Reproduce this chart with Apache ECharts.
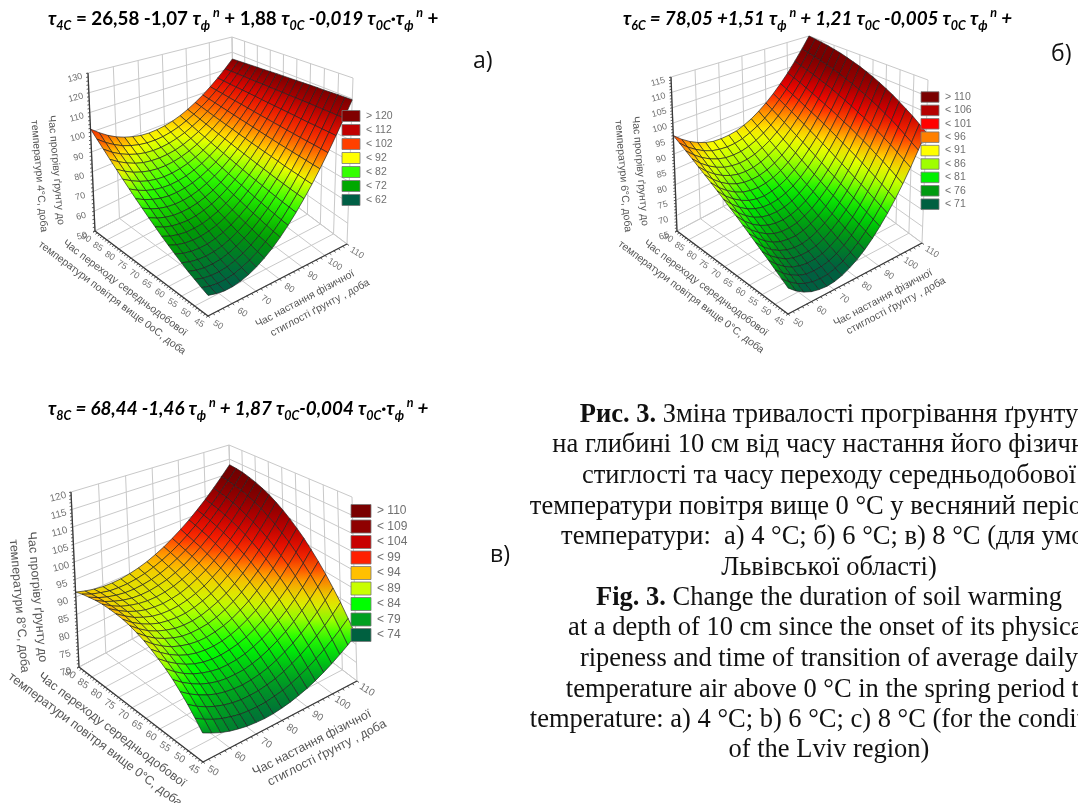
<!DOCTYPE html><html><head><meta charset="utf-8"><script src="https://cdn.jsdelivr.net/npm/echarts@6/dist/echarts.min.js"></script><style>html,body{margin:0;background:#fff}#c{width:1078px;height:803px}#c canvas{filter:blur(.45px)}</style></head><body><div id="c"></div><script>
const uTicks=[50,60,70,80,90,100,110];
const vTicks=[45,50,55,60,65,70,75,80,85,90];
const zTicksA=[50,60,70,80,90,100,110,120,130];
const zTicksB=[65,70,75,80,85,90,95,100,105,110,115];
const zTicksC=[70,75,80,85,90,95,100,105,110,115,120];
const legendA=['> 120','< 112','< 102','< 92','< 82','< 72','< 62'];
const legendB=['> 110','< 106','< 101','< 96','< 91','< 86','< 81','< 76','< 71'];
const legendC=['> 110','< 109','< 104','< 99','< 94','< 89','< 84','< 79','< 74'];
const legendColA=['#800000','#c00000','#ff4000','#ffff00','#33ff00','#00a800','#005f45'];
const legendColB=['#7a0000','#b50000','#ff0000','#ff8000','#ffff00','#9fff00','#00f000','#009a10','#006040'];
const legendColC=['#7a0000','#8f0000','#c80000','#ff2000','#ffc000','#c8ff00','#00ff00','#00a020','#006040'];
const zA=[
[58,57.1,56.6,56.7,57.3,58.4,60,62.2,64.8,68,71.7,75.9,80.6,85.8,91.5,97.7,104.5,111.7,119.5],
[59.2,58.2,57.7,57.8,58.3,59.4,60.9,63,65.6,68.6,72.2,76.4,81,86.1,91.7,97.9,104.6,111.7,119.4],
[60.6,59.5,59,58.9,59.4,60.4,61.9,63.8,66.3,69.3,72.9,76.9,81.4,86.5,92,98.1,104.6,111.7,119.3],
[62,60.9,60.3,60.2,60.6,61.5,62.9,64.8,67.2,70.1,73.5,77.5,81.9,86.8,92.3,98.2,104.7,111.6,119.1],
[63.7,62.5,61.8,61.6,61.9,62.7,64,65.8,68.1,70.9,74.3,78.1,82.4,87.2,92.6,98.4,104.7,111.6,118.9],
[65.5,64.2,63.4,63.1,63.3,64,65.2,66.9,69.1,71.8,75,78.8,83,87.7,92.9,98.6,104.8,111.6,118.8],
[67.4,66,65.1,64.7,64.8,65.4,66.5,68.1,70.2,72.8,75.9,79.5,83.6,88.2,93.2,98.8,104.9,111.5,118.6],
[69.4,67.9,66.9,66.4,66.4,66.9,67.9,69.3,71.3,73.8,76.8,80.2,84.2,88.7,93.6,99.1,105,111.5,118.4],
[71.7,70,68.9,68.3,68.1,68.5,69.4,70.7,72.5,74.9,77.7,81,84.9,89.2,94,99.3,105.1,111.4,118.2],
[74,72.2,71,70.2,70,70.2,70.9,72.1,73.8,76,78.7,81.9,85.6,89.7,94.4,99.6,105.2,111.4,118],
[76.5,74.6,73.2,72.3,71.9,72,72.5,73.6,75.2,77.2,79.7,82.8,86.3,90.3,94.8,99.8,105.3,111.3,117.8],
[79.1,77.1,75.6,74.5,73.9,73.9,74.3,75.2,76.6,78.5,80.8,83.7,87.1,90.9,95.3,100.1,105.4,111.2,117.6],
[81.9,79.7,78,76.8,76.1,75.8,76.1,76.8,78.1,79.8,82,84.7,87.9,91.6,95.7,100.4,105.6,111.2,117.3],
[84.8,82.5,80.6,79.2,78.3,77.9,78,78.6,79.6,81.2,83.2,85.7,88.7,92.2,96.2,100.7,105.7,111.1,117],
[87.9,85.4,83.3,81.8,80.7,80.1,80,80.4,81.3,82.6,84.5,86.8,89.6,92.9,96.7,101,105.8,111,116.8],
[91.1,88.4,86.2,84.4,83.1,82.4,82.1,82.3,82.9,84.1,85.8,87.9,90.5,93.6,97.2,101.3,105.9,111,116.5],
[94.5,91.5,89.1,87.2,85.7,84.7,84.2,84.2,84.7,85.7,87.1,89.1,91.5,94.4,97.8,101.7,106,110.9,116.2],
[98,94.8,92.2,90,88.4,87.2,86.5,86.3,86.5,87.3,88.5,90.3,92.5,95.2,98.3,102,106.2,110.8,115.9],
[101.6,98.3,95.4,93,91.2,89.8,88.8,88.4,88.5,89,90,91.5,93.5,96,98.9,102.4,106.3,110.7,115.6]];
const zB=[
[71.5,69.8,68.5,67.6,67.1,66.9,67.1,67.7,68.7,70,71.7,73.8,76.3,79.1,82.3,85.9,89.9,94.3,99],
[72.7,70.9,69.5,68.5,67.9,67.7,67.8,68.4,69.3,70.7,72.4,74.6,77.1,80,83.3,87,91.1,95.6,100.5],
[73.9,72,70.5,69.4,68.7,68.5,68.6,69.1,70.1,71.4,73.2,75.4,77.9,80.9,84.3,88.1,92.3,96.9,102],
[75.2,73.2,71.6,70.4,69.7,69.3,69.4,69.9,70.9,72.2,74,76.2,78.8,81.9,85.3,89.2,93.5,98.2,103.3],
[76.4,74.3,72.7,71.4,70.6,70.3,70.3,70.8,71.7,73.1,74.9,77.1,79.7,82.8,86.3,90.2,94.6,99.4,104.6],
[77.7,75.5,73.8,72.5,71.6,71.2,71.2,71.7,72.6,74,75.7,78,80.6,83.7,87.3,91.3,95.7,100.5,105.9],
[79,76.8,75,73.6,72.7,72.3,72.2,72.7,73.6,74.9,76.7,78.9,81.6,84.7,88.3,92.3,96.7,101.6,107],
[80.3,78,76.2,74.8,73.8,73.3,73.3,73.7,74.6,75.9,77.7,79.9,82.5,85.7,89.2,93.3,97.8,102.7,108.1],
[81.7,79.3,77.4,76,75,74.5,74.4,74.8,75.6,76.9,78.7,80.9,83.5,86.6,90.2,94.3,98.7,103.7,109.1],
[83,80.6,78.7,77.2,76.2,75.7,75.6,75.9,76.7,78,79.7,81.9,84.6,87.7,91.2,95.2,99.7,104.6,110],
[84.4,82,80,78.5,77.5,76.9,76.8,77.1,77.9,79.1,80.8,83,85.6,88.7,92.2,96.2,100.6,105.5,110.9],
[85.8,83.3,81.4,79.9,78.8,78.2,78,78.4,79.1,80.3,82,84.1,86.7,89.7,93.2,97.1,101.5,106.3,111.6],
[87.2,84.7,82.8,81.3,80.2,79.6,79.4,79.7,80.4,81.6,83.2,85.3,87.8,90.7,94.2,98,102.4,107.1,112.3],
[88.6,86.2,84.2,82.7,81.6,81,80.8,81,81.7,82.8,84.4,86.4,88.9,91.8,95.1,98.9,103.2,107.8,113],
[90,87.6,85.7,84.2,83.1,82.4,82.2,82.4,83.1,84.2,85.7,87.6,90,92.9,96.1,99.8,103.9,108.5,113.5],
[91.5,89.1,87.2,85.7,84.6,84,83.7,83.9,84.5,85.6,87,88.9,91.2,94,97.1,100.7,104.7,109.1,114],
[93,90.7,88.8,87.3,86.2,85.5,85.3,85.4,86,87,88.4,90.2,92.4,95.1,98.1,101.6,105.4,109.7,114.4],
[94.5,92.2,90.4,88.9,87.8,87.2,86.9,87,87.5,88.5,89.8,91.5,93.6,96.2,99.1,102.4,106.1,110.2,114.7],
[96,93.8,92,90.6,89.5,88.8,88.6,88.7,89.1,90,91.2,92.9,94.9,97.3,100.1,103.2,106.8,110.7,115]];
const zC=[
[76.4,75.4,74.5,73.8,73.3,72.9,72.7,72.6,72.7,73,73.4,74,74.7,75.6,76.7,77.9,79.3,80.8,82.5],
[78.5,77.3,76.3,75.5,74.9,74.4,74.2,74.1,74.2,74.6,75,75.7,76.6,77.6,78.9,80.3,81.9,83.7,85.7],
[80.5,79.1,78,77.1,76.4,75.9,75.6,75.6,75.7,76.1,76.6,77.4,78.4,79.6,81,82.6,84.4,86.5,88.8],
[82.3,80.8,79.6,78.6,77.8,77.3,77,76.9,77.1,77.5,78.1,79,80.1,81.4,83,84.8,86.8,89.1,91.6],
[84,82.4,81.1,80,79.2,78.6,78.3,78.3,78.4,78.9,79.6,80.6,81.8,83.2,84.9,86.9,89.1,91.6,94.3],
[85.5,83.8,82.4,81.3,80.5,79.9,79.5,79.5,79.7,80.2,81,82,83.3,84.9,86.7,88.8,91.2,93.9,96.8],
[86.8,85.1,83.7,82.5,81.6,81,80.7,80.7,81,81.5,82.3,83.4,84.8,86.5,88.5,90.7,93.2,96,99.1],
[88,86.3,84.8,83.6,82.7,82.1,81.8,81.8,82.1,82.7,83.6,84.8,86.2,88,90.1,92.4,95.1,98,101.3],
[89.1,87.3,85.8,84.6,83.8,83.2,82.9,82.9,83.3,83.9,84.8,86.1,87.6,89.5,91.6,94,96.8,99.9,103.2],
[90,88.2,86.7,85.6,84.7,84.1,83.9,84,84.3,85,86,87.3,88.9,90.8,93,95.6,98.4,101.5,105],
[90.8,89,87.5,86.4,85.6,85,84.8,84.9,85.3,86.1,87.1,88.4,90.1,92.1,94.4,97,99.9,103.1,106.6],
[91.4,89.6,88.2,87.1,86.3,85.9,85.7,85.8,86.3,87.1,88.1,89.5,91.2,93.3,95.6,98.2,101.2,104.4,108],
[91.8,90.2,88.8,87.8,87,86.6,86.5,86.7,87.2,88,89.1,90.6,92.3,94.4,96.7,99.4,102.4,105.7,109.3],
[92.1,90.6,89.3,88.3,87.6,87.3,87.2,87.5,88,88.9,90.1,91.5,93.3,95.4,97.8,100.4,103.4,106.7,110.3],
[92.3,90.8,89.6,88.8,88.2,87.9,87.9,88.2,88.8,89.7,90.9,92.4,94.2,96.3,98.7,101.4,104.4,107.7,111.2],
[92.3,90.9,89.9,89.1,88.6,88.4,88.5,88.9,89.5,90.5,91.7,93.3,95.1,97.2,99.5,102.2,105.2,108.4,111.9],
[92.1,90.9,90,89.4,89,88.9,89.1,89.5,90.2,91.2,92.5,94,95.8,97.9,100.3,102.9,105.9,109,112.5],
[91.9,90.8,90.1,89.5,89.3,89.3,89.6,90.1,90.9,91.9,93.2,94.7,96.5,98.6,100.9,103.5,106.4,109.5,112.8],
[91.4,90.6,90,89.6,89.5,89.6,90,90.6,91.4,92.5,93.8,95.4,97.2,99.2,101.5,104,106.8,109.8,113]];
const panels=[
{z:zA,zt:zTicksA,F:[208,316],R:[347,244],L:[95,231],B:[234,159],Ft:[209,110],Rt:[353,78],Lt:[88,73],Bt:[232,37],
 stops:[[57,'#005f45'],[67,'#00a000'],[77,'#2cff00'],[87,'#ffff00'],[97,'#ff5000'],[107,'#e00000'],[116,'#7a0000']],
 leg:legendA,legC:legendColA,lx:342,ly:116,ld:14,lw:18,lh:11,lf:10.5,tf:10.5,ts:9,
 t1:['Час прогріву ґрунту до','температури 4°С, доба'],tv:[[56,170],[39,176]],tva:-85,
 t2:['Час переходу середньодобової','температури повітря вище 0оС, доба'],tl:[[125,288],[112,298]],tla:-37,
 t3:['Час настання фізичної','стиглості ґрунту , доба'],tr:[[305,299],[320,308]],tra:28},
{z:zB,zt:zTicksB,F:[788,314],R:[922,243],L:[677,231],B:[811,160],Ft:[790,115],Rt:[928,80],Lt:[671,77],Bt:[809,36],
 stops:[[68.5,'#006040'],[73.5,'#009a10'],[78.5,'#00f000'],[83.5,'#9fff00'],[88.5,'#ffff00'],[93.5,'#ff8000'],[98.5,'#ff0000'],[103.5,'#b50000'],[108,'#7a0000']],
 leg:legendB,legC:legendColB,lx:921,ly:97,ld:13.4,lw:18,lh:10.5,lf:10.5,tf:10.5,ts:9,
 t1:['Час прогріву ґрунту до','температури 6°С, доба'],tv:[[640,171],[623,176]],tva:-85,
 t2:['Час переходу середньодобової','температури повітря вище 0°С, доба'],tl:[[706,288],[691,297]],tla:-37,
 t3:['Час настання фізичної','стиглості ґрунту , доба'],tr:[[883,298],[896,306]],tra:28},
{z:zC,zt:zTicksC,F:[203,762],R:[357,681],L:[79,667],B:[233,586],Ft:[200,535],Rt:[352,497],Lt:[71,492],Bt:[229,445],
 stops:[[71.5,'#006040'],[76.5,'#00a020'],[81.5,'#00ff00'],[86.5,'#c8ff00'],[91.5,'#ffc000'],[96.5,'#ff2000'],[101.5,'#c80000'],[106.5,'#8f0000'],[111,'#700000']],
 leg:legendC,legC:legendColC,lx:351,ly:511,ld:15.5,lw:20,lh:13,lf:12,tf:12.5,ts:10,
 t1:['Час прогріву ґрунту до','температури 8°С, доба'],tv:[[37,597],[19,606]],tva:-85,
 t2:['Час переходу середньодобової','температури повітря вище 0°С, доба'],tl:[[112,730],[95,740]],tla:-37,
 t3:['Час настання фізичної','стиглості ґрунту , доба'],tr:[[312,743],[327,753]],tra:27}];
function lerp(a,b,t){return [a[0]+(b[0]-a[0])*t,a[1]+(b[1]-a[1])*t]}
function quad(f,r,l,b,u,v,k){const ws=[(1-u)*(1-v)*k.f,u*(1-v)*k.r,(1-u)*v*k.l,u*v*k.b],s=ws[0]+ws[1]+ws[2]+ws[3];return [(ws[0]*f[0]+ws[1]*r[0]+ws[2]*l[0]+ws[3]*b[0])/s,(ws[0]*f[1]+ws[1]*r[1]+ws[2]*l[1]+ws[3]*b[1])/s]}
function proj(p,u,v,w){const H=(a,b)=>Math.pow(Math.abs(a[1]-b[1]),-.25),k={f:H(p.F,p.Ft),r:H(p.R,p.Rt),l:H(p.L,p.Lt),b:H(p.B,p.Bt)};return lerp(quad(p.F,p.R,p.L,p.B,u,v,k),quad(p.Ft,p.Rt,p.Lt,p.Bt,u,v,k),w)}
function hex(c){return [1,3,5].map(i=>parseInt(c.substr(i,2),16))}
function colorOf(p,z){const s=p.stops;if(z<=s[0][0])return s[0][1];for(let k=1;k<s.length;k++){if(z<=s[k][0]){const t=(z-s[k-1][0])/(s[k][0]-s[k-1][0]),a=hex(s[k-1][1]),b=hex(s[k][1]);return 'rgb('+a.map((x,n)=>Math.round(x+(b[n]-x)*t)).join(',')+')'}}return s[s.length-1][1]}
const GRAY='#c9c9c9',AX='#3a3a3a',TXT='#707070';
function frame(pi){return function(params,api){
 const p=panels[pi],zt=p.zt,zn=(z)=>(z-zt[0])/(zt[zt.length-1]-zt[0]),un=x=>(x-50)/60,vn=x=>(x-45)/45,ch=[];
 const P=(u,v,w)=>api.coord(proj(p,u,v,w));
 const line=(a,b,col,w)=>ch.push({type:'line',shape:{x1:a[0],y1:a[1],x2:b[0],y2:b[1]},style:{stroke:col,lineWidth:w}});
 const text=(s,pt,rot,font,fill)=>ch.push({type:'text',x:pt[0],y:pt[1],rotation:rot*Math.PI/180,style:{text:s,font:font,fill:fill,align:'center',verticalAlign:'middle'}});
 uTicks.forEach(x=>{const u=un(x);line(P(u,0,0),P(u,1,0),GRAY,1);line(P(u,1,0),P(u,1,1),GRAY,1)});
 vTicks.forEach(x=>{const v=vn(x);line(P(0,v,0),P(1,v,0),GRAY,1);line(P(1,v,0),P(1,v,1),GRAY,1)});
 zt.forEach(z=>{const w=zn(z);line(P(0,1,w),P(1,1,w),GRAY,1);line(P(1,1,w),P(1,0,w),GRAY,1)});
 line(P(0,1,0),P(0,1,1),AX,1.3);line(P(0,0,0),P(0,1,0),AX,1.3);line(P(0,0,0),P(1,0,0),AX,1.3);
 for(let k=0;k<(zt.length-1)*5+1;k++){const a=P(0,1,k/((zt.length-1)*5));line(a,[a[0]-2,a[1]+.5],AX,.8)}
 for(let k=0;k<=45;k++){const a=P(0,k/45,0);line(a,[a[0]-2,a[1]+1.5],AX,.8)}
 for(let k=0;k<=30;k++){const a=P(k/30,0,0);line(a,[a[0]+2,a[1]+1.5],AX,.8)}
 const font=p.ts+'px "Liberation Sans"';
 zt.forEach(z=>{const a=P(0,1,zn(z));text(String(z),[a[0]-13,a[1]+5],15,font,TXT)});
 vTicks.forEach(x=>{const a=P(0,vn(x),0);text(String(x),[a[0]-9,a[1]+7],-32,font,TXT)});
 uTicks.forEach(x=>{const a=P(un(x),0,0);text(String(x),[a[0]+10,a[1]+9],-32,font,TXT)});
 const tfont=p.tf+'px "Liberation Sans"',c=pt=>api.coord(pt);
 p.t1.forEach((s,k)=>text(s,c(p.tv[k]),p.tva,tfont,'#555'));
 p.t2.forEach((s,k)=>text(s,c(p.tl[k]),p.tla,tfont,'#555'));
 p.t3.forEach((s,k)=>text(s,c(p.tr[k]),p.tra,tfont,'#555'));
 return {type:'group',children:ch};
}}
function surface(pi){return function(params,api){
 const p=panels[pi],i=api.value(0),j=api.value(1),n=p.z.length-1;
 const vs=[[i,j,api.value(2)],[i+1,j,api.value(3)],[i+1,j+1,api.value(5)],[i,j+1,api.value(4)]];
 const pts=vs.map(q=>api.coord(proj(p,q[0]/n,q[1]/n,(q[2]-p.zt[0])/(p.zt[p.zt.length-1]-p.zt[0]))));
 let hi=0,lo=0;pts.forEach((q,k)=>{if(q[1]<pts[hi][1])hi=k;if(q[1]>pts[lo][1])lo=k});
 const fill=new echarts.graphic.LinearGradient(0,0,0,1,[{offset:0,color:colorOf(p,vs[hi][2])},{offset:1,color:colorOf(p,vs[lo][2])}]);
 return {type:'polygon',shape:{points:pts},style:{fill:fill,stroke:'rgba(30,30,30,.72)',lineWidth:.9}};
}}
function cells(z){const d=[];for(let j=z.length-2;j>=0;j--)for(let i=z[j].length-2;i>=0;i--)d.push([i,j,z[j][i],z[j][i+1],z[j+1][i],z[j+1][i+1]]);return d}
function legend(pi){return function(params,api){
 const p=panels[pi],k=api.value(0),a=api.coord([p.lx,p.ly+k*p.ld]);
 return {type:'group',children:[{type:'rect',shape:{x:a[0],y:a[1]-p.lh/2,width:p.lw,height:p.lh},style:{fill:p.legC[k],stroke:'#777',lineWidth:.8}},
 {type:'text',x:a[0]+p.lw+6,y:a[1],style:{text:p.leg[k],font:p.lf+'px "Liberation Sans"',fill:TXT,align:'left',verticalAlign:'middle'}}]};
}}
const series=[];
panels.forEach((p,pi)=>{
 series.push({type:'custom',renderItem:frame(pi),data:[[pi]],clip:false,silent:true,z:1,animation:false});
 series.push({type:'custom',renderItem:surface(pi),data:cells(p.z),clip:false,silent:true,z:2,animation:false,progressive:0});
 series.push({type:'custom',renderItem:legend(pi),data:p.leg.map((s,k)=>[k]),clip:false,silent:true,z:3,animation:false});
});
const FS=18.8,SS=12.5;
const rich={ti:{font:'italic bold '+FS+'px Lato',lineHeight:26,verticalAlign:'middle'},b:{font:'bold '+FS+'px Lato',lineHeight:26,verticalAlign:'middle'},bi:{font:'italic bold '+FS+'px Lato',lineHeight:26,verticalAlign:'middle'},sub:{font:'italic bold '+SS+'px Lato',lineHeight:26,verticalAlign:'bottom'},sup:{font:'italic bold '+SS+'px Lato',lineHeight:26,verticalAlign:'top'}};
const formulas=[[48,19,'{ti|τ}{sub|4C}{b| = 26,58 -1,07 }{ti|τ}{sub|ф}{sup| п}{b| + 1,88 }{ti|τ}{sub|0C}{bi| -0,019 }{ti|τ}{sub|0C}{bi|·}{ti|τ}{sub|ф}{sup| п}{b| +}'],
[623,19,'{ti|τ}{sub|6C}{bi| = 78,05 +1,51 }{ti|τ}{sub|ф}{sup| п}{bi| + 1,21 }{ti|τ}{sub|0C}{bi| -0,005 }{ti|τ}{sub|0C}{bi| }{ti|τ}{sub|ф}{sup| п}{bi| +}'],
[48,409,'{ti|τ}{sub|8C}{bi| = 68,44 -1,46 }{ti|τ}{sub|ф}{sup| п}{bi| + 1,87 }{ti|τ}{sub|0C}{bi|-0,004 }{ti|τ}{sub|0C}{bi|·}{ti|τ}{sub|ф}{sup| п}{bi| +}']];
const marks=[['а)',473,61],['б)',1051,54],['в)',490,555]];
const captionLines=[[415,'{b|Рис. 3.} Зміна тривалості прогрівання ґрунту'],[445,'на глибині 10 см від часу настання його фізичної'],[476,'стиглості та часу переходу середньодобової'],[507,'температури повітря вище 0 °С у весняний період до'],[537,'температури:  а) 4 °С; б) 6 °С; в) 8 °С (для умов'],[568,'Львівської області)'],[598,'{b|Fig. 3.} Change the duration of soil warming'],[628,'at a depth of 10 cm since the onset of its physical'],[659,'ripeness and time of transition of average daily'],[690,'temperature air above 0 °C in the spring period to'],[720,'temperature: a) 4 °C; b) 6 °C; c) 8 °C (for the conditions'],[750,'of the Lviv region)']];
const graphic=[];
formulas.forEach(f=>graphic.push({type:'text',x:f[0],y:f[1],style:{text:f[2],rich:rich,fill:'#000',align:'left',verticalAlign:'middle'},silent:true}));
marks.forEach(m=>graphic.push({type:'text',x:m[1],y:m[2],style:{text:m[0],font:'23px "Open Sans"',fill:'#111',align:'left',verticalAlign:'middle'},silent:true}));
captionLines.forEach(c=>graphic.push({type:'text',x:829,y:c[0],style:{text:c[1],font:'26.5px "Liberation Serif"',fill:'#111',align:'center',verticalAlign:'middle',rich:{b:{font:'bold 26.5px "Liberation Serif"',fill:'#111'}}},silent:true}));
const chart=echarts.init(document.getElementById('c'),null,{renderer:'canvas'});
chart.setOption({animation:false,backgroundColor:'#fff',grid:{left:0,top:0,width:1078,height:803},
 xAxis:{type:'value',min:0,max:1078,show:false},yAxis:{type:'value',min:0,max:803,inverse:true,show:false},graphic:graphic,series:series});
</script></body></html>
